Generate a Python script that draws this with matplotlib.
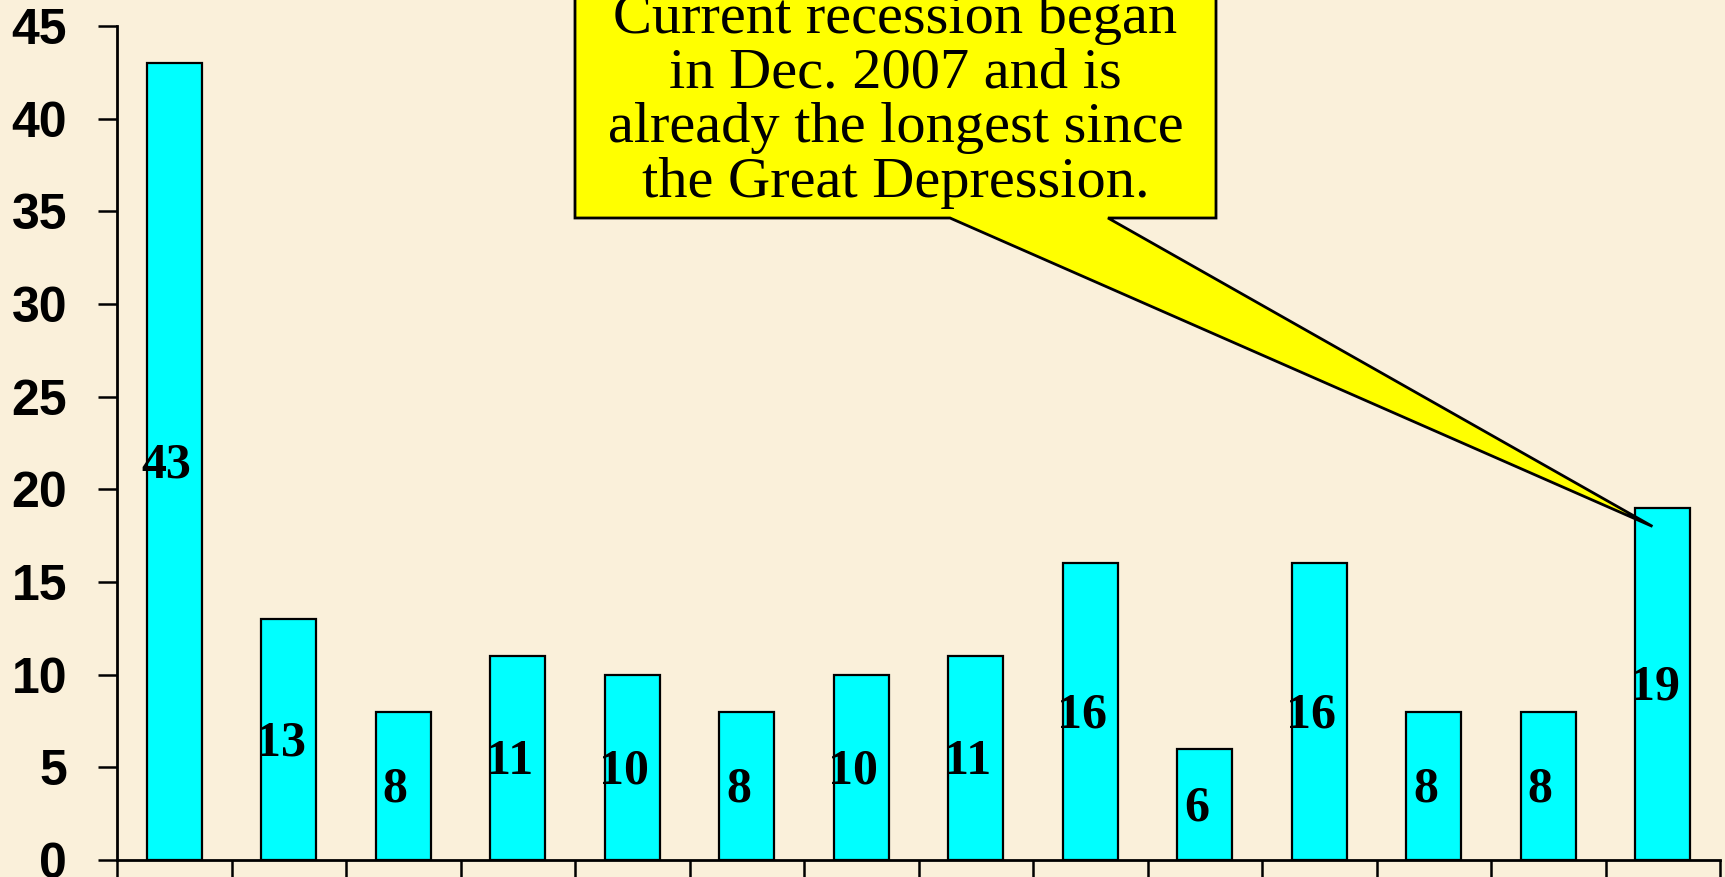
import matplotlib
matplotlib.use("Agg")
import matplotlib.pyplot as plt
from matplotlib.patches import Polygon
import numpy as np

# Data
values = [43, 13, 8, 11, 10, 8, 10, 11, 16, 6, 16, 8, 8, 19]
y_ticks = [0, 5, 10, 15, 20, 25, 30, 35, 40, 45]
callout_text = "Current recession began\nin Dec. 2007 and is\nalready the longest since\nthe Great Depression."
callout_value = 18.0

BG = "#FAF0DA"
W, H = 1725, 877
fig = plt.figure(figsize=(W / 100, H / 100), dpi=100, facecolor=BG)
ax = fig.add_axes([117 / W, (H - 860) / H, (1720 - 117) / W, (860 - 26) / H])
ax.set_facecolor(BG)

n = len(values)
x = np.arange(n)
ax.bar(x, values, width=0.48, color="#00FFFF", edgecolor="black", linewidth=1.6, zorder=2)

for xi, v in zip(x, values):
    ax.text(xi - 0.07, v / 2 - 0.2, str(v), ha="center", va="center",
            family="Liberation Serif", fontweight="bold", fontsize=36, zorder=3)

ax.set_xlim(-0.5, n - 0.5)
ax.set_ylim(0, 45)
ax.set_yticks(y_ticks)
ax.set_yticklabels([str(t) for t in y_ticks], family="Liberation Sans", fontweight="bold", fontsize=36)
ax.set_xticks(np.arange(n + 1) - 0.5)
ax.set_xticklabels([])
ax.tick_params(axis="y", direction="out", length=14, width=1.8, pad=22)
ax.tick_params(axis="x", direction="out", length=12, width=1.8)
for s in ["top", "right"]:
    ax.spines[s].set_visible(False)
for s in ["left", "bottom"]:
    ax.spines[s].set_linewidth(2)
ax.spines["left"].set_zorder(4)

# Callout
fig.canvas.draw()
tip = ax.transData.transform((n - 1 - 0.09, callout_value))
bl, br, bb, bt = 575, 1216, H - 218, H + 20
pl, pr = 950, 1108
poly = Polygon([(bl, bb), (pl, bb), (tip[0], tip[1]), (pr, bb), (br, bb), (br, bt), (bl, bt)],
               closed=True, transform=None, facecolor="#FFFF00", edgecolor="black",
               linewidth=2, zorder=10)
fig.patches.append(poly)
fig.text((bl + br) / 2 / W, (H - 101) / H, callout_text, ha="center", va="center",
         family="Liberation Serif", fontsize=42, linespacing=1.07, zorder=11)

fig.savefig("out.png", dpi=100, facecolor=BG)
